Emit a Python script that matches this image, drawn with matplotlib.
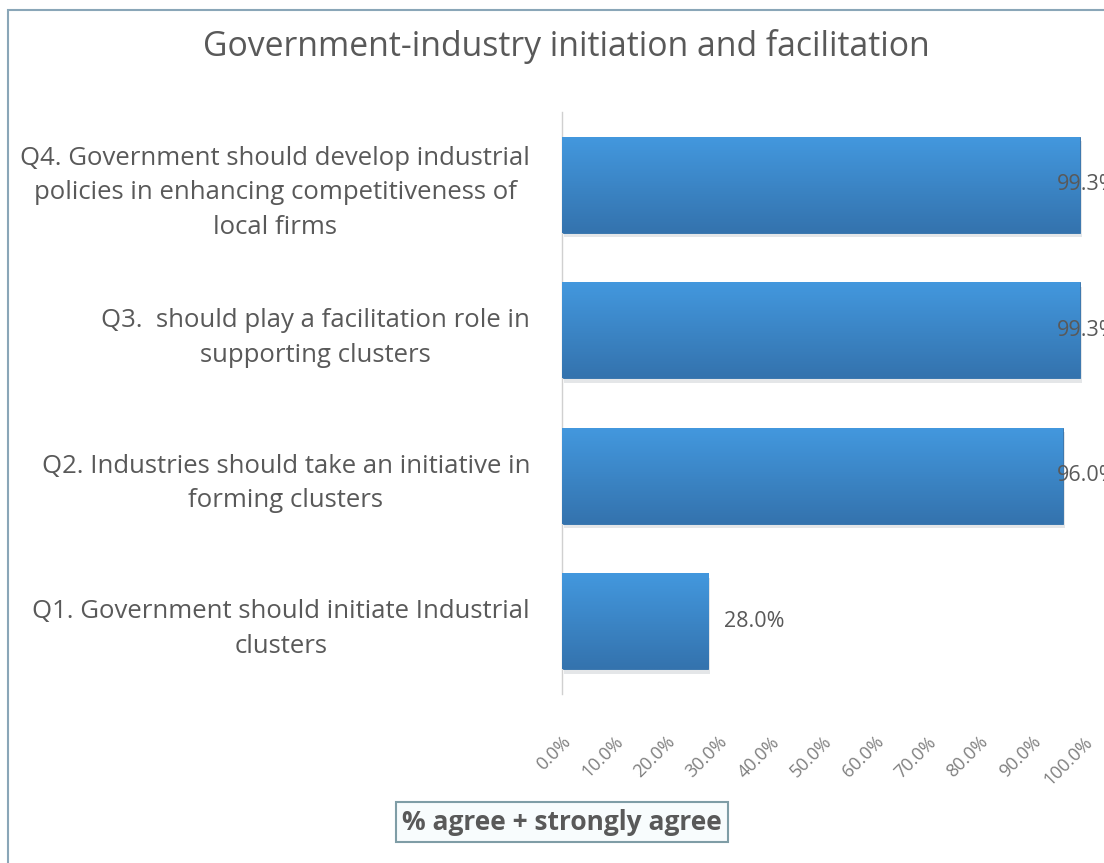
import matplotlib
matplotlib.use("Agg")
import matplotlib.pyplot as plt
import numpy as np
from matplotlib.patches import Rectangle
from matplotlib.colors import LinearSegmentedColormap

plt.rcParams['font.family'] = ['Open Sans', 'DejaVu Sans']

title = "Government-industry initiation and facilitation"
categories = [
    "Q1. Government should initiate Industrial\nclusters",
    "Q2. Industries should take an initiative in\nforming clusters",
    "Q3.  should play a facilitation role in\nsupporting clusters",
    "Q4. Government should develop industrial\npolicies in enhancing competitiveness of\nlocal firms",
]
values = [28.0, 96.0, 99.3, 99.3]
tick_values = [0, 10, 20, 30, 40, 50, 60, 70, 80, 90, 100]
tick_labels = ["0.0%", "10.0%", "20.0%", "30.0%", "40.0%", "50.0%",
               "60.0%", "70.0%", "80.0%", "90.0%", "100.0%"]
xlabel = "% agree + strongly agree"

W, H = 1104, 863
fig = plt.figure(figsize=(W / 100, H / 100), dpi=100)
fig.patch.set_facecolor("white")

# chart frame (only the top/left edges fall inside the canvas)
fig.add_artist(Rectangle((8 / W, -0.1), 1.2, (H - 10) / H + 0.1,
                         transform=fig.transFigure, fill=False,
                         edgecolor="#8aa6b8", linewidth=1.5))

ax = fig.add_axes([562 / W, 1 - 694 / H, 521.6 / W, (694 - 112) / H])
ax.set_xlim(0, 100)
ax.set_ylim(-0.5, len(categories) - 0.5)

y = np.arange(len(categories))
bar_h = 0.66
cmap = LinearSegmentedColormap.from_list("barfill", ["#3473ae", "#4398de"])
grad = np.linspace(0, 1, 64).reshape(-1, 1)

# soft shadow under each bar
ax.barh(y - 0.03, values, height=bar_h, left=0.4, color="#a7adb3",
        alpha=0.3, linewidth=0, zorder=1)
bars = ax.barh(y, values, height=bar_h, color="#3d86c9",
               edgecolor="#2f6ea8", linewidth=0.6, zorder=2)
for b in bars:
    x0, y0 = b.get_x(), b.get_y()
    im = ax.imshow(grad, cmap=cmap, aspect="auto", origin="lower",
                   extent=(x0, x0 + b.get_width(), y0, y0 + b.get_height()),
                   zorder=3)
    im.set_clip_path(b)

# value labels; near the right edge they are pulled back inside the plot
for yi, v in zip(y, values):
    ax.text(min(v + 3.0, 94.9), yi, f"{v:.1f}%", ha="left", va="center",
            fontsize=15.5, color="#595959", zorder=5, clip_on=False)

ax.set_yticks(y)
ax.set_yticklabels(categories, fontsize=18.5, color="#595959",
                   multialignment="center", linespacing=1.5)
ax.tick_params(axis="y", length=0, pad=23)

ax.set_xticks(tick_values)
ax.set_xticklabels(tick_labels, rotation=45, ha="right", va="top",
                   rotation_mode="anchor", fontsize=13, color="#7f7f7f")
ax.tick_params(axis="x", length=0, pad=28)

for s in ["top", "right", "bottom"]:
    ax.spines[s].set_visible(False)
ax.spines["left"].set_color("#d0d0d0")
ax.spines["left"].set_linewidth(1.0)

fig.text(566 / W, 1 - 47 / H, title, ha="center", va="center",
         fontsize=24.3, color="#595959")

fig.text(562 / W, 1 - 822 / H, xlabel, ha="center", va="center",
         fontsize=19, fontweight="bold", color="#595959",
         bbox=dict(boxstyle="square,pad=0.25", facecolor="#f8fcfd",
                   edgecolor="#7f9da6", linewidth=1.5))

fig.savefig("out.png", dpi=100)
